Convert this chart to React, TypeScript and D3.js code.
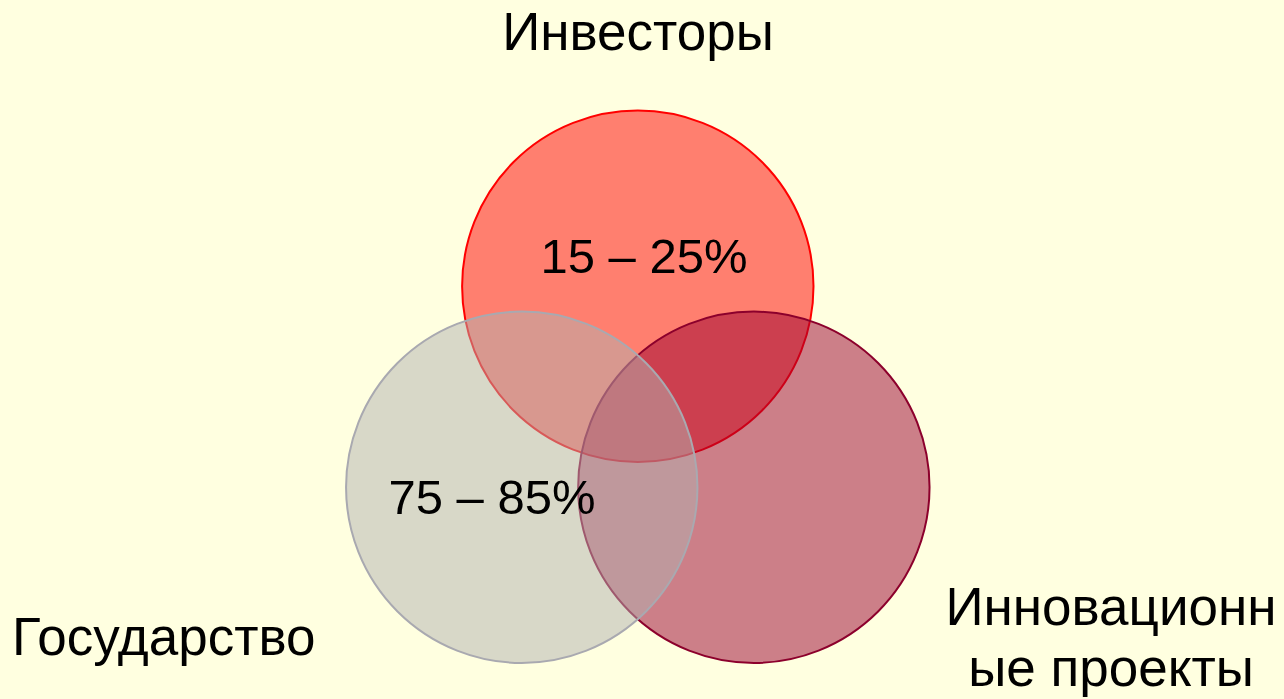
import * as d3 from "d3";
import { useEffect, useRef } from "react";

// Venn parties
const sets = ["Инвесторы", "Инновационные проекты", "Государство"];
const setAngles = [-90, 30, 150];
const setFills = ["#ff7f6f", "#990030", "#b1b1b0"];
const setOpacity = [1, 0.5, 0.5];
const setStrokes = ["#ff0000", "#8c002c", "#a9a9b0"];

// outer labels, one entry per line
const labelLines = [["Инвесторы"], ["Инновационн", "ые проекты"], ["Государство"]];

// shares shown inside circles
const shareLabels = ["15 – 25%", "", "75 – 85%"];

const W = 1284;
const H = 699;

const App = () => {
  const svgRef = useRef<SVGSVGElement | null>(null);

  useEffect(() => {
    const svg = d3.select(svgRef.current);
    svg.selectAll("*").remove();

    svg.append("rect").attr("width", W).attr("height", H).attr("fill", "#ffffe0");

    const cx = 637.8;
    const cy = 420.3;
    const spread = 134;
    const r = 175.7;
    const x = d3.scaleLinear().domain([-1, 1]).range([cx - spread, cx + spread]);
    const y = d3.scaleLinear().domain([-1, 1]).range([cy - spread, cy + spread]);
    const rad = (a: number) => (a * Math.PI) / 180;

    const nodes = sets.map((name, i) => ({
      name,
      x: x(Math.cos(rad(setAngles[i]))),
      y: y(Math.sin(rad(setAngles[i]))),
      i,
    }));

    svg
      .append("g")
      .selectAll("circle")
      .data(nodes)
      .enter()
      .append("circle")
      .attr("cx", (d) => d.x)
      .attr("cy", (d) => d.y)
      .attr("r", r)
      .attr("fill", (d) => setFills[d.i])
      .attr("fill-opacity", (d) => setOpacity[d.i])
      .attr("stroke", (d) => setStrokes[d.i])
      .attr("stroke-width", 2);

    const font = "'Liberation Sans', Arial, sans-serif";

    // shares
    const sharePos = [
      [644, 273],
      [0, 0],
      [492, 514],
    ];
    svg
      .append("g")
      .selectAll("text")
      .data(shareLabels.map((t, i) => ({ t, i })).filter((d) => d.t))
      .enter()
      .append("text")
      .attr("x", (d) => sharePos[d.i][0])
      .attr("y", (d) => sharePos[d.i][1])
      .attr("text-anchor", "middle")
      .attr("font-family", font)
      .attr("font-size", 49)
      .attr("fill", "#000")
      .text((d) => d.t);

    // party labels
    const labelPos = [
      [638, 50, "middle"],
      [1111, 625, "middle"],
      [12, 655, "start"],
    ];
    labelLines.forEach((lines, i) => {
      const t = svg
        .append("text")
        .attr("x", labelPos[i][0] as number)
        .attr("y", labelPos[i][1] as number)
        .attr("text-anchor", labelPos[i][2] as string)
        .attr("font-family", font)
        .attr("font-size", 53)
        .attr("fill", "#000");
      lines.forEach((line, j) => {
        t.append("tspan")
          .attr("x", labelPos[i][0] as number)
          .attr("dy", j === 0 ? 0 : 61)
          .text(line);
      });
    });
  }, []);

  return (
    <svg
      ref={svgRef}
      width={W}
      height={H}
      style={{ position: "fixed", left: 0, top: 0, display: "block" }}
    ></svg>
  );
};

export default App;
